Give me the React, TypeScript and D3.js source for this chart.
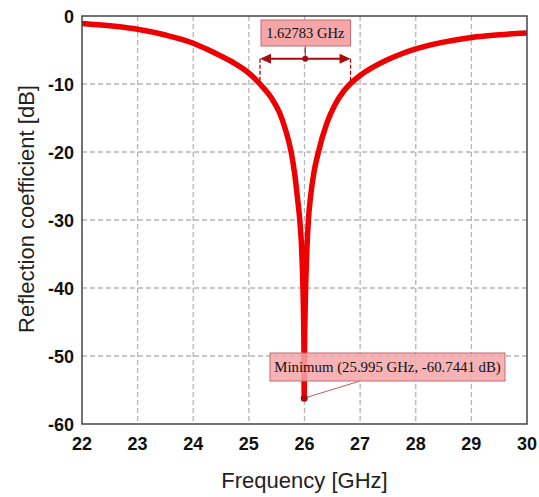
import * as d3 from 'd3';

// curve (GHz, dB)
const FREQ = [
  22.0, 22.5, 23.0, 23.5, 24.0, 24.25, 24.5, 24.75, 25.0, 25.2, 25.4, 25.55, 25.65, 25.76, 25.82,
  25.87, 25.92, 25.95, 25.975, 25.99, 25.995, 26.0, 26.015, 26.04, 26.07, 26.11, 26.17, 26.25,
  26.4, 26.55, 26.7, 26.82, 27.0, 27.25, 27.5, 27.75, 28.0, 28.5, 29.0, 29.5, 30.0,
];
const S11 = [
  -1.1, -1.45, -1.95, -2.8, -4.0, -4.9, -5.9, -7.0, -8.4, -10.0, -12.0, -14.2, -16.5, -20.0, -23.0,
  -26.5, -30.5, -34.5, -41.0, -49.0, -56.2, -50.0, -42.0, -35.0, -30.0, -26.5, -23.0, -20.0,
  -15.8, -13.0, -11.1, -10.0, -8.75, -7.45, -6.4, -5.55, -4.85, -3.85, -3.15, -2.75, -2.5,
];
const X_TICKS = [22, 23, 24, 25, 26, 27, 28, 29, 30];
const Y_TICKS = [0, -10, -20, -30, -40, -50, -60];

// markers
const BW_LO = 25.2;
const BW_HI = 26.828;
const BW_LEVEL = -6.3;
const BW_REF = -10;
const BW_LABEL = '1.62783 GHz';
const MIN_F = 25.995;
const MIN_V = -56.2;
const MIN_LABEL = 'Minimum (25.995 GHz, -60.7441 dB)';

const W = 539;
const H = 497;
const M = { left: 82, top: 16, right: 12, bottom: 73 };

const sans = 'Arial, "Liberation Sans", Helvetica, sans-serif';
const serif = '"Liberation Serif", "Times New Roman", Times, serif';

export default function App() {
  const x = d3.scaleLinear().domain([22, 30]).range([M.left, W - M.right]);
  const y = d3.scaleLinear().domain([-60, 0]).range([H - M.bottom, M.top]);

  const pts: [number, number][] = FREQ.map((f, i) => [f, S11[i]]);
  const line = d3
    .line<[number, number]>()
    .x(d => x(d[0]))
    .y(d => y(d[1]))
    .curve(d3.curveMonotoneX);

  const markRed = '#a50d0d';
  const boxFill = '#f5a6a9';
  const boxStroke = '#c46a6c';

  const xL = x(BW_LO), xR = x(BW_HI), yA = y(BW_LEVEL);
  const xMid = (xL + xR) / 2;
  const ah = 9;

  const mx = x(MIN_F), my = y(MIN_V);

  return (
    <div style={{ position: 'fixed', left: 0, top: 0 }}>
      <svg width={W} height={H} style={{ display: 'block', background: '#fff' }}>
        <defs>
          <clipPath id="plot">
            <rect x={M.left} y={M.top} width={W - M.left - M.right} height={H - M.top - M.bottom} />
          </clipPath>
        </defs>

        {/* grid */}
        <g stroke="#b5b5b5" strokeWidth={1.3} strokeDasharray="5,3">
          {X_TICKS.slice(1, -1).map(t => (
            <line key={'gx' + t} x1={x(t)} x2={x(t)} y1={M.top} y2={H - M.bottom} />
          ))}
          {Y_TICKS.slice(1, -1).map(t => (
            <line key={'gy' + t} x1={M.left} x2={W - M.right} y1={y(t)} y2={y(t)} />
          ))}
        </g>

        {/* curve */}
        <path
          d={line(pts) ?? ''}
          fill="none"
          stroke="#ee0000"
          strokeWidth={5.5}
          strokeLinejoin="round"
          clipPath="url(#plot)"
        />

        {/* bandwidth marker */}
        <g>
          <line x1={xL} x2={xL} y1={yA} y2={y(BW_REF)} stroke={markRed} strokeWidth={1.3} strokeDasharray="4,2" />
          <line x1={xR} x2={xR} y1={yA} y2={y(BW_REF)} stroke={markRed} strokeWidth={1.3} strokeDasharray="4,2" />
          <line x1={xL + ah} x2={xR - ah} y1={yA} y2={yA} stroke={markRed} strokeWidth={2} />
          <path d={`M${xL},${yA} L${xL + ah + 2},${yA - 5} L${xL + ah + 2},${yA + 5} Z`} fill={markRed} />
          <path d={`M${xR},${yA} L${xR - ah - 2},${yA - 5} L${xR - ah - 2},${yA + 5} Z`} fill={markRed} />
          <line x1={xMid} x2={xMid} y1={46} y2={yA} stroke={markRed} strokeWidth={1} />
          <circle cx={xMid} cy={yA} r={3} fill={markRed} />
          <rect x={xL + 1} y={20} width={xR - xL - 1} height={26} fill={boxFill} stroke={boxStroke} strokeWidth={1} />
          <text x={xMid} y={38} textAnchor="middle" fontFamily={serif} fontSize={14.5} fill="#111">
            {BW_LABEL}
          </text>
        </g>

        {/* minimum marker */}
        <g>
          <line x1={mx} y1={my} x2={360} y2={381} stroke="#c0595c" strokeWidth={1} />
          <rect x={270} y={353} width={235} height={28} fill={boxFill} fillOpacity={0.85} stroke={boxStroke} strokeWidth={1} />
          <text x={387.5} y={372} textAnchor="middle" fontFamily={serif} fontSize={14.8} fill="#111">
            {MIN_LABEL}
          </text>
          <circle cx={mx} cy={my} r={3.5} fill={markRed} />
        </g>

        {/* frame */}
        <rect
          x={M.left}
          y={M.top}
          width={W - M.left - M.right}
          height={H - M.top - M.bottom}
          fill="none"
          stroke="#444"
          strokeWidth={1.5}
        />

        {/* tick labels */}
        <g fontFamily={sans} fontWeight="bold" fontSize={18} fill="#111">
          {Y_TICKS.map(t => (
            <text key={'ty' + t} x={M.left - 8} y={y(t) + 7} textAnchor="end">
              {t}
            </text>
          ))}
          {X_TICKS.map(t => (
            <text key={'tx' + t} x={x(t)} y={H - M.bottom + 26} textAnchor="middle">
              {t}
            </text>
          ))}
        </g>

        {/* axis titles */}
        <text x={(M.left + W - M.right) / 2} y={488} textAnchor="middle" fontFamily={sans} fontSize={22} fill="#222">
          Frequency [GHz]
        </text>
        <text
          transform={`translate(34,${(M.top + H - M.bottom) / 2 - 11}) rotate(-90)`}
          textAnchor="middle"
          fontFamily={sans}
          fontSize={22}
          fill="#222"
        >
          Reflection coefficient [dB]
        </text>
      </svg>
    </div>
  );
}
